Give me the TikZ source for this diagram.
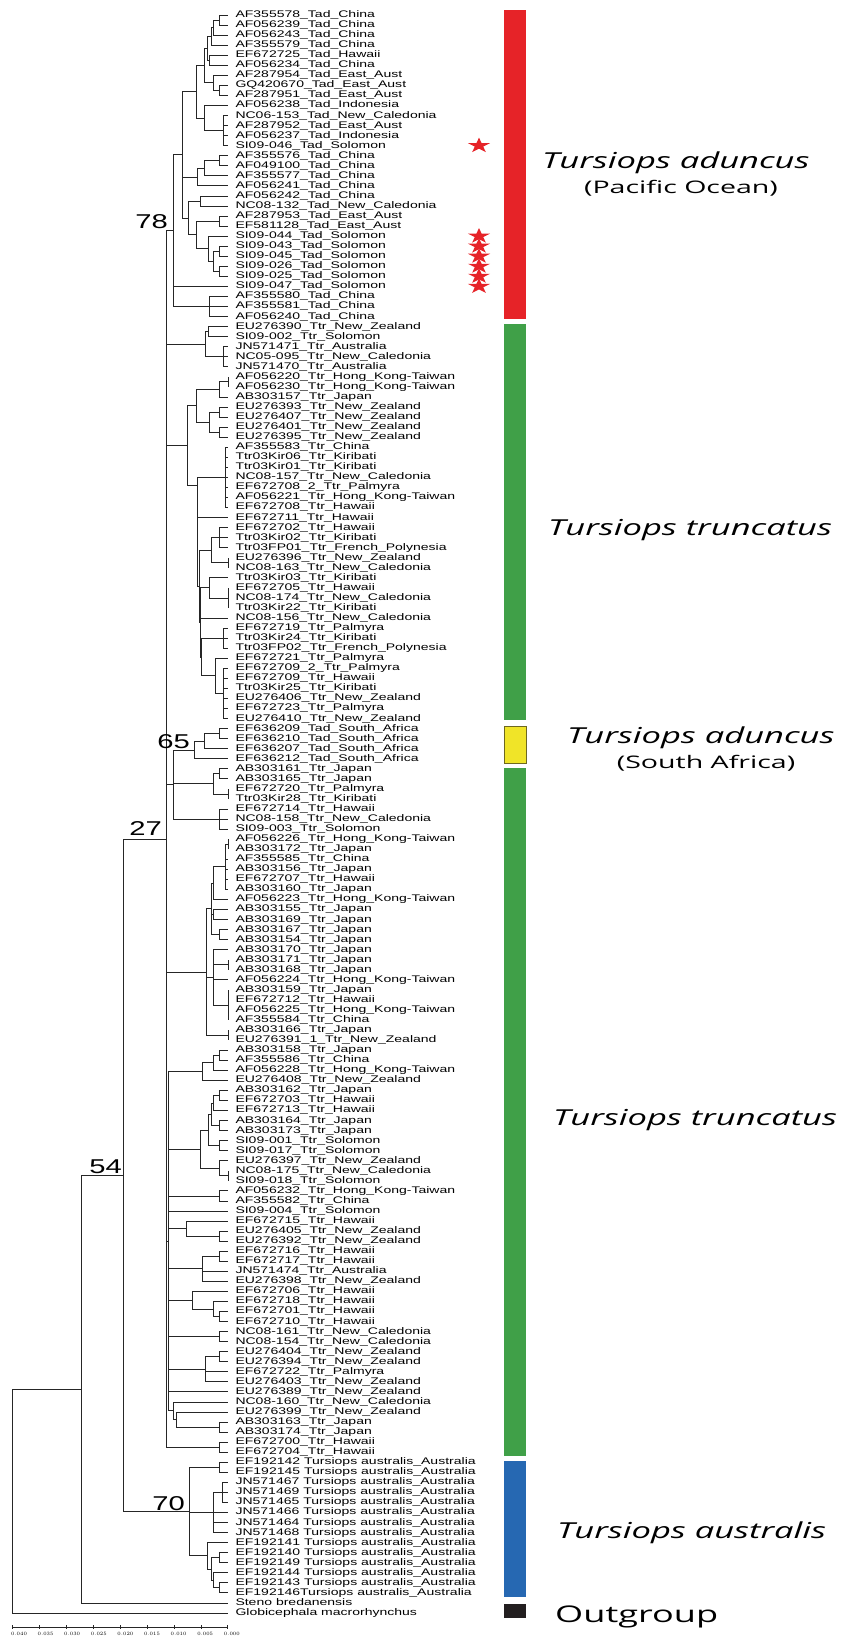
\documentclass[tikz,border=0pt]{standalone}
\usepackage{fontspec}
\setmainfont{Liberation Sans}
\newfontfamily\leaffont[FakeStretch=1.46]{Liberation Sans}
\newfontfamily\spfont[FakeStretch=1.57]{Open Sans}
\newfontfamily\rgfont[FakeStretch=1.65]{Open Sans}
\usetikzlibrary{calc, shapes.geometric}

\definecolor{padred}{RGB}{230,35,40}
\definecolor{trgreen}{RGB}{64,160,72}
\definecolor{sayellow}{RGB}{240,228,40}
\definecolor{ausblue}{RGB}{38,104,178}
\definecolor{outblack}{RGB}{35,31,32}

% internal node: [y], name, x, children (y defaults to the middle of first and last child)
\newcommand\clade[4][]{%
  \foreach \c [count=\k] in {#4} {\ifnum\k=1 \xdef\cfirst{\c}\fi \xdef\clast{\c}}%
  \if\relax\detokenize{#1}\relax
    \coordinate (tmp) at ($(\cfirst)!.5!(\clast)$);
  \else
    \coordinate (tmp) at (0,#1);
  \fi
  \coordinate (#2) at (tmp -| #3,0);
  \foreach \c in {#4} {\draw[branch] (#2) |- (\c);}
}

\begin{document}
\begin{tikzpicture}[
  x=1pt, y=-1pt,
  leaf/.style={anchor=west, inner xsep=7.5pt, inner ysep=0.5pt, outer sep=0pt,
    font=\leaffont\fontsize{9.6}{10}\selectfont, text height=6.5pt, text depth=1.5pt},
  branch/.style={draw=black!85, line width=0.75pt},
  support/.style={anchor=south east, inner sep=0pt, font=\leaffont\fontsize{20}{20}\selectfont},
  species/.style={anchor=base west, inner sep=0pt, font=\spfont\itshape\fontsize{22}{22}\selectfont},
  region/.style={anchor=base, inner sep=0pt, font=\rgfont\fontsize{17.3}{17.3}\selectfont},
  starmark/.style={star, star points=5, star point ratio=2.6, minimum size=16pt,
    inner sep=0pt, fill=padred, xscale=1.45},
  ticklab/.style={anchor=north, inner sep=0pt, font=\leaffont\fontsize{4.6}{5}\selectfont},
]
\useasboundingbox (0,0) rectangle (850,1639);

% ── Leaves ─────────────────────────────────
\foreach \lab [count=\i from 0] in {
  AF355578\_Tad\_China, AF056239\_Tad\_China, AF056243\_Tad\_China, AF355579\_Tad\_China,
  EF672725\_Tad\_Hawaii, AF056234\_Tad\_China, AF287954\_Tad\_East\_Aust, GQ420670\_Tad\_East\_Aust,
  AF287951\_Tad\_East\_Aust, AF056238\_Tad\_Indonesia, NC06-153\_Tad\_New\_Caledonia, AF287952\_Tad\_East\_Aust,
  AF056237\_Tad\_Indonesia, SI09-046\_Tad\_Solomon, AF355576\_Tad\_China, AF049100\_Tad\_China,
  AF355577\_Tad\_China, AF056241\_Tad\_China, AF056242\_Tad\_China, NC08-132\_Tad\_New\_Caledonia,
  AF287953\_Tad\_East\_Aust, EF581128\_Tad\_East\_Aust, SI09-044\_Tad\_Solomon, SI09-043\_Tad\_Solomon,
  SI09-045\_Tad\_Solomon, SI09-026\_Tad\_Solomon, SI09-025\_Tad\_Solomon, SI09-047\_Tad\_Solomon,
  AF355580\_Tad\_China, AF355581\_Tad\_China, AF056240\_Tad\_China,
  EU276390\_Ttr\_New\_Zealand, SI09-002\_Ttr\_Solomon, JN571471\_Ttr\_Australia, NC05-095\_Ttr\_New\_Caledonia,
  JN571470\_Ttr\_Australia, AF056220\_Ttr\_Hong\_Kong-Taiwan, AF056230\_Ttr\_Hong\_Kong-Taiwan, AB303157\_Ttr\_Japan,
  EU276393\_Ttr\_New\_Zealand, EU276407\_Ttr\_New\_Zealand, EU276401\_Ttr\_New\_Zealand, EU276395\_Ttr\_New\_Zealand,
  AF355583\_Ttr\_China, Ttr03Kir06\_Ttr\_Kiribati, Ttr03Kir01\_Ttr\_Kiribati, NC08-157\_Ttr\_New\_Caledonia,
  EF672708\_2\_Ttr\_Palmyra, AF056221\_Ttr\_Hong\_Kong-Taiwan, EF672708\_Ttr\_Hawaii, EF672711\_Ttr\_Hawaii,
  EF672702\_Ttr\_Hawaii, Ttr03Kir02\_Ttr\_Kiribati, Ttr03FP01\_Ttr\_French\_Polynesia, EU276396\_Ttr\_New\_Zealand,
  NC08-163\_Ttr\_New\_Caledonia, Ttr03Kir03\_Ttr\_Kiribati, EF672705\_Ttr\_Hawaii, NC08-174\_Ttr\_New\_Caledonia,
  Ttr03Kir22\_Ttr\_Kiribati, NC08-156\_Ttr\_New\_Caledonia, EF672719\_Ttr\_Palmyra, Ttr03Kir24\_Ttr\_Kiribati,
  Ttr03FP02\_Ttr\_French\_Polynesia, EF672721\_Ttr\_Palmyra, EF672709\_2\_Ttr\_Palmyra, EF672709\_Ttr\_Hawaii,
  Ttr03Kir25\_Ttr\_Kiribati, EU276406\_Ttr\_New\_Zealand, EF672723\_Ttr\_Palmyra, EU276410\_Ttr\_New\_Zealand,
  EF636209\_Tad\_South\_Africa, EF636210\_Tad\_South\_Africa, EF636207\_Tad\_South\_Africa, EF636212\_Tad\_South\_Africa,
  AB303161\_Ttr\_Japan, AB303165\_Ttr\_Japan, EF672720\_Ttr\_Palmyra, Ttr03Kir28\_Ttr\_Kiribati,
  EF672714\_Ttr\_Hawaii, NC08-158\_Ttr\_New\_Caledonia, SI09-003\_Ttr\_Solomon, AF056226\_Ttr\_Hong\_Kong-Taiwan,
  AB303172\_Ttr\_Japan, AF355585\_Ttr\_China, AB303156\_Ttr\_Japan, EF672707\_Ttr\_Hawaii,
  AB303160\_Ttr\_Japan, AF056223\_Ttr\_Hong\_Kong-Taiwan, AB303155\_Ttr\_Japan, AB303169\_Ttr\_Japan,
  AB303167\_Ttr\_Japan, AB303154\_Ttr\_Japan, AB303170\_Ttr\_Japan, AB303171\_Ttr\_Japan,
  AB303168\_Ttr\_Japan, AF056224\_Ttr\_Hong\_Kong-Taiwan, AB303159\_Ttr\_Japan, EF672712\_Ttr\_Hawaii,
  AF056225\_Ttr\_Hong\_Kong-Taiwan, AF355584\_Ttr\_China, AB303166\_Ttr\_Japan, EU276391\_1\_Ttr\_New\_Zealand,
  AB303158\_Ttr\_Japan, AF355586\_Ttr\_China, AF056228\_Ttr\_Hong\_Kong-Taiwan, EU276408\_Ttr\_New\_Zealand,
  AB303162\_Ttr\_Japan, EF672703\_Ttr\_Hawaii, EF672713\_Ttr\_Hawaii, AB303164\_Ttr\_Japan,
  AB303173\_Ttr\_Japan, SI09-001\_Ttr\_Solomon, SI09-017\_Ttr\_Solomon, EU276397\_Ttr\_New\_Zealand,
  NC08-175\_Ttr\_New\_Caledonia, SI09-018\_Ttr\_Solomon, AF056232\_Ttr\_Hong\_Kong-Taiwan, AF355582\_Ttr\_China,
  SI09-004\_Ttr\_Solomon, EF672715\_Ttr\_Hawaii, EU276405\_Ttr\_New\_Zealand, EU276392\_Ttr\_New\_Zealand,
  EF672716\_Ttr\_Hawaii, EF672717\_Ttr\_Hawaii, JN571474\_Ttr\_Australia, EU276398\_Ttr\_New\_Zealand,
  EF672706\_Ttr\_Hawaii, EF672718\_Ttr\_Hawaii, EF672701\_Ttr\_Hawaii, EF672710\_Ttr\_Hawaii,
  NC08-161\_Ttr\_New\_Caledonia, NC08-154\_Ttr\_New\_Caledonia, EU276404\_Ttr\_New\_Zealand, EU276394\_Ttr\_New\_Zealand,
  EF672722\_Ttr\_Palmyra, EU276403\_Ttr\_New\_Zealand, EU276389\_Ttr\_New\_Zealand, NC08-160\_Ttr\_New\_Caledonia,
  EU276399\_Ttr\_New\_Zealand, AB303163\_Ttr\_Japan, AB303174\_Ttr\_Japan, EF672700\_Ttr\_Hawaii,
  EF672704\_Ttr\_Hawaii,
  EF192142 Tursiops australis\_Australia, EF192145 Tursiops australis\_Australia,
  JN571467 Tursiops australis\_Australia, JN571469 Tursiops australis\_Australia,
  JN571465 Tursiops australis\_Australia, JN571466 Tursiops australis\_Australia,
  JN571464 Tursiops australis\_Australia, JN571468 Tursiops australis\_Australia,
  EF192141 Tursiops australis\_Australia, EF192140 Tursiops australis\_Australia,
  EF192149 Tursiops australis\_Australia, EF192144 Tursiops australis\_Australia,
  EF192143 Tursiops australis\_Australia, EF192146Tursiops australis\_Australia,
  Steno bredanensis, Globicephala macrorhynchus}
  \node[leaf] (l\i) at (228, {15+10.05*\i}) {\lab};

% ── T. aduncus, Pacific ────────────────────
\clade{n0001}{219}{l0,l1}
\clade{n0002}{213}{n0001,l2}
\clade{n0003}{211}{n0002,l3}
\clade{n0405}{209}{l4,l5}
\clade{pa1}{207}{n0003,n0405}
\clade{n0708}{219}{l7,l8}
\clade{pa2}{213}{l6,n0708}
\clade{pa12}{204}{pa1,pa2}
\clade{n1013}{223}{l10,l11,l12,l13}
\clade{pa3}{204}{l9,n1013}
\clade{pa123}{196}{pa12,pa3}
\clade{n1415}{219}{l14,l15}
\clade{n1416}{204}{n1415,l16}
\clade{n1417}{197}{n1416,l17}
\clade{n1819}{200}{l18,l19}
\clade{n2021}{219}{l20,l21}
\clade{n2324}{219}{l23,l24}
\clade{n2526}{219}{l25,l26}
\clade{n2326}{213}{n2324,n2526}
\clade{n2226}{208}{l22,n2326}
\clade{pc2}{196}{n2021,n2226}
\clade{pc}{188}{n1819,pc2}
\clade{pb}{182}{pa123,n1417,pc}
\clade{n2830}{209}{l28,l29,l30}
\clade{padc}{173}{pb,l27,n2830}

% ── T. truncatus, upper ────────────────────
\clade{n3132}{208}{l31,l32}
\clade{n3335}{223}{l33,l34,l35}
\clade{ta}{205}{n3132,n3335}
\clade{n3637}{228}{l36,l37}
\clade{n3638}{219}{n3637,l38}
\clade{n3940}{219}{l39,l40}
\clade{n4142}{219}{l41,l42}
\clade{n3942}{209}{n3940,n4142}
\clade{n3642}{196}{n3638,n3942}
\clade{n4349}{225}{l43,l44,l45,l46,l47,l48,l49}
\clade{n5153}{219}{l51,l52,l53}
\clade{n5455}{228}{l54,l55}
\clade{n5155}{211}{n5153,n5455}
\clade{n5759}{228}{l57,l58,l59}
\clade{n5659}{209}{l56,n5759}
\clade{n6163}{223}{l61,l62,l63}
\clade{n6570}{223}{l65,l66,l67,l68,l69,l70}
\clade{n6470}{215}{l64,n6570}
\clade{th4}{201}{n6163,n6470}
\clade{th3}{200}{n5659,l60,th4}
\clade{th2}{199}{n5155,th3}
\clade[485]{th1}{197}{n4349,l50,th2}
\clade{tb}{187}{n3642,th1}

% ── T. aduncus, South Africa ───────────────
\clade{n7172}{219}{l71,l72}
\clade{n7173}{204}{n7172,l73}
\clade{safr}{194}{n7173,l74}
\clade{n7576}{219}{l75,l76}
\clade{n7778}{228}{l77,l78}
\clade{n7578}{213}{n7576,n7778}
\clade{n7981}{219}{l79,l80,l81}
\clade{tx}{173}{safr,n7578,n7981}

% ── T. truncatus, lower ────────────────────
\clade{n8283}{228}{l82,l83}
\clade{n8287}{225}{n8283,l84,l85,l86,l87}
\clade{n8288}{213}{n8287,l88}
\clade{n8990}{213}{l89,l90}
\clade{n9192}{219}{l91,l92}
\clade{tk1a}{211}{n8288,n8990,n9192}
\clade{n9495}{228}{l94,l95}
\clade{n97100}{228}{l97,l98,l99,l100}
\clade{tk1b}{213}{l93,n9495,l96,n97100}
\clade{n101102}{228}{l101,l102}
\clade{tk1}{206}{tk1a,tk1b,n101102}
\clade{n103104}{219}{l103,l104}
\clade{n103105}{213}{n103104,l105}
\clade{tk2}{202}{n103105,l106}
\clade{n107108}{219}{l107,l108}
\clade{n107109}{213}{n107108,l109}
\clade{n110111}{219}{l110,l111}
\clade{n107111}{211}{n107109,n110111}
\clade{n112113}{219}{l112,l113}
\clade{n107113}{208}{n107111,n112113}
\clade{n115116}{228}{l115,l116}
\clade{n114116}{219}{l114,n115116}
\clade{tk3}{200}{n107113,n114116}
\clade{n117118}{219}{l117,l118}
\clade{n121122}{219}{l121,l122}
\clade{tk5}{186}{l120,n121122}
\clade{n123124}{219}{l123,l124}
\clade{tk6}{202}{n123124,l125,l126}
\clade{n129130}{219}{l129,l130}
\clade{n128130}{213}{l128,n129130}
\clade{tk7}{192}{l127,n128130}
\clade{n131132}{219}{l131,l132}
\clade{n133134}{219}{l133,l134}
\clade{tk9}{205}{n133134,l135,l136}
\clade{n140141}{219}{l140,l141}
\clade{tk10b}{176}{l139,n140141}
\clade{tk10}{173}{l138,tk10b}
\clade{tlow}{168.5}{tk2,tk3,n117118,l119,tk5,tk6,tk7,n131132,tk9,l137,tk10}
\clade{n142143}{219}{l142,l143}
\clade{trunc}{166}{padc,ta,tb,tx,tk1,tlow,n142143}

% ── T. australis ───────────────────────────
\clade{n144145}{219}{l144,l145}
\clade{n146148}{222}{l146,l147,l148}
\clade{au2}{213}{n146148,l149,l150,l151}
\clade{n153154}{219}{l153,l154}
\clade{n156157}{219}{l156,l157}
\clade{n155157}{213}{l155,n156157}
\clade{au3b}{211}{n153154,n155157}
\clade{au3}{207}{l152,au3b}
\clade{austr}{189}{n144145,au2,au3}

% ── Outgroups ──────────────────────────────
\clade{ingroup}{123}{trunc,austr}
\clade{delph}{81}{ingroup,l158}
\clade{treeroot}{12}{delph,l159}

% ── Bootstrap values ───────────────────────
\node[support] (bs78) at ([xshift=-5pt, yshift=2pt]padc) {78};
\node[support] (bs65) at ([xshift=-4pt, yshift=1pt]safr) {65};
\node[support] (bs27) at ([xshift=-4pt, yshift=3pt]trunc) {27};
\node[support] (bs54) at ([xshift=-1pt, yshift=1pt]ingroup) {54};
\node[support] (bs70) at ([xshift=-4pt, yshift=1pt]austr) {70};

% ── Solomon stars ──────────────────────────
\foreach \i in {13,22,23,24,25,26,27}
  \node[starmark] (st\i) at (l\i -| 479,0) {};

% ── Clade bars ─────────────────────────────
\fill[padred] (504,10) rectangle (526,318.5);
\fill[trgreen] (504,323.5) rectangle (526,720);
\filldraw[fill=sayellow, draw=olive!70!black, line width=0.6pt] (504,726) rectangle (526,763);
\fill[trgreen] (504,768) rectangle (526,1456);
\fill[ausblue] (504,1461) rectangle (526,1597);
\fill[outblack] (504,1604) rectangle (526,1618);

% ── Clade names ────────────────────────────
\node[species] (sp1) at (542,168) {Tursiops aduncus};
\node[region] (rg1) at (681,193) {(Pacific Ocean)};
\node[species] (sp2) at (548,535) {Tursiops truncatus};
\node[species] (sp3) at (567,743) {Tursiops aduncus};
\node[region] (rg3) at (706,768) {(South Africa)};
\node[species] (sp4) at (553,1125) {Tursiops truncatus};
\node[species] (sp5) at (557,1538) {Tursiops australis};
\node[species, font=\spfont\fontsize{23}{23}\selectfont] (sp6) at (555,1622) {Outgroup};

% ── Scale bar ──────────────────────────────
\draw[branch, line width=0.5pt] (12.3,1627) -- (227.7,1627);
\foreach \k [evaluate=\k as \v using {0.040-0.005*\k}] in {0,...,8} {
  \draw[branch, line width=0.5pt] ({12.3+26.93*\k},1625.3) -- ++(0,3.4);
  \node[ticklab] (sl\k) at ({19+26.6*\k},1632.5) {\pgfmathprintnumber[fixed,precision=3,zerofill]{\v}};
}
\end{tikzpicture}
\end{document}
